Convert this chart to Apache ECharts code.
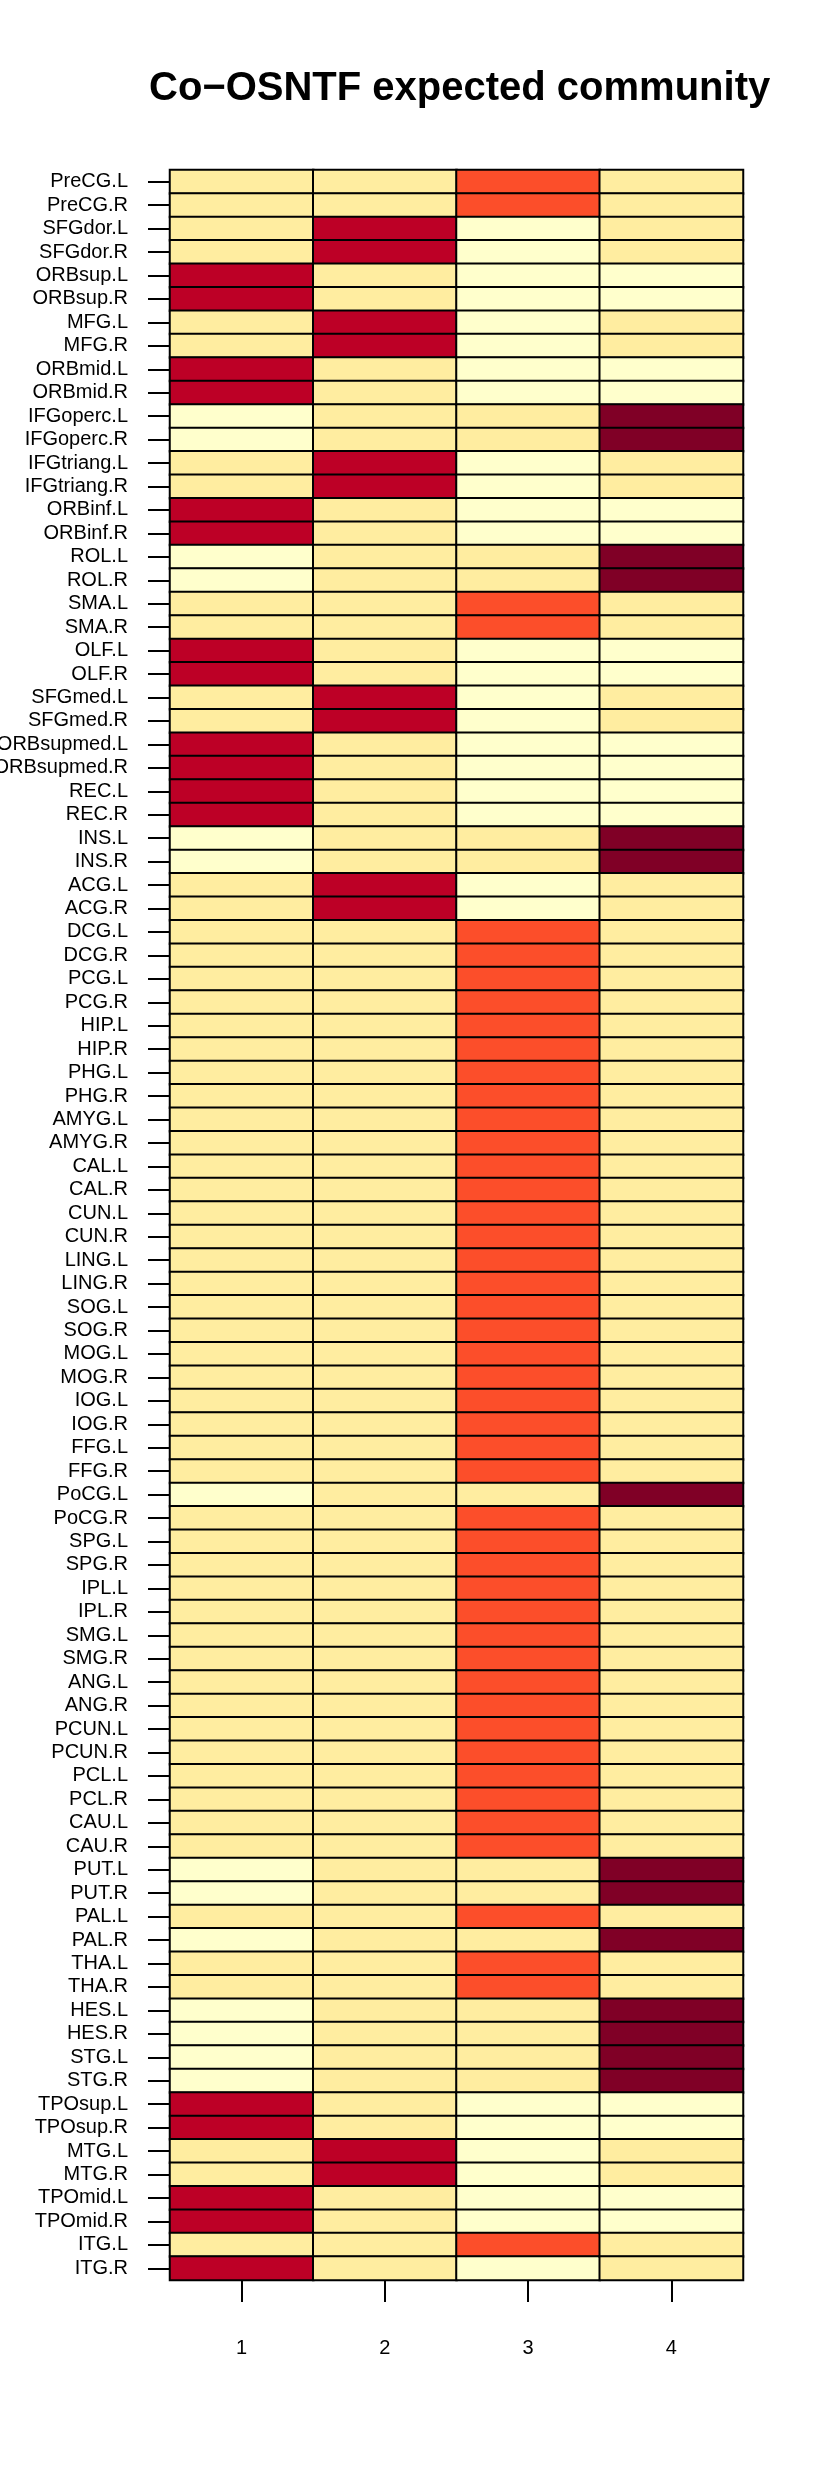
<!DOCTYPE html>
<html>
<head>
<meta charset="utf-8">
<style>
  html, body { margin: 0; padding: 0; background: #ffffff; }
  #chart { width: 830px; height: 2491px; }
</style>
<script src="https://cdn.jsdelivr.net/npm/echarts@6/dist/echarts.min.js"></script>
</head>
<body>
<div id="chart"></div>
<script>
// ---- data ----
var regions = [
  'PreCG.L','PreCG.R','SFGdor.L','SFGdor.R','ORBsup.L','ORBsup.R','MFG.L','MFG.R',
  'ORBmid.L','ORBmid.R','IFGoperc.L','IFGoperc.R','IFGtriang.L','IFGtriang.R',
  'ORBinf.L','ORBinf.R','ROL.L','ROL.R','SMA.L','SMA.R','OLF.L','OLF.R',
  'SFGmed.L','SFGmed.R','ORBsupmed.L','ORBsupmed.R','REC.L','REC.R','INS.L','INS.R',
  'ACG.L','ACG.R','DCG.L','DCG.R','PCG.L','PCG.R','HIP.L','HIP.R','PHG.L','PHG.R',
  'AMYG.L','AMYG.R','CAL.L','CAL.R','CUN.L','CUN.R','LING.L','LING.R','SOG.L','SOG.R',
  'MOG.L','MOG.R','IOG.L','IOG.R','FFG.L','FFG.R','PoCG.L','PoCG.R','SPG.L','SPG.R',
  'IPL.L','IPL.R','SMG.L','SMG.R','ANG.L','ANG.R','PCUN.L','PCUN.R','PCL.L','PCL.R',
  'CAU.L','CAU.R','PUT.L','PUT.R','PAL.L','PAL.R','THA.L','THA.R','HES.L','HES.R',
  'STG.L','STG.R','TPOsup.L','TPOsup.R','MTG.L','MTG.R','TPOmid.L','TPOmid.R','ITG.L','ITG.R'
];
var communities = ['1', '2', '3', '4'];

// expected membership of each region in community 1..4
var comm1 = [
  0.16,0.16,0.16,0.16,0.82,0.82,0.16,0.16,0.82,0.82,
  0.04,0.04,0.16,0.16,0.82,0.82,0.04,0.04,0.16,0.16,
  0.82,0.82,0.16,0.16,0.82,0.82,0.82,0.82,0.04,0.04,
  0.16,0.16,0.16,0.16,0.16,0.16,0.16,0.16,0.16,0.16,
  0.16,0.16,0.16,0.16,0.16,0.16,0.16,0.16,0.16,0.16,
  0.16,0.16,0.16,0.16,0.16,0.16,0.04,0.16,0.16,0.16,
  0.16,0.16,0.16,0.16,0.16,0.16,0.16,0.16,0.16,0.16,
  0.16,0.16,0.04,0.04,0.16,0.04,0.16,0.16,0.04,0.04,
  0.04,0.04,0.82,0.82,0.16,0.16,0.82,0.82,0.16,0.82
];
var comm2 = [
  0.16,0.16,0.82,0.82,0.16,0.16,0.82,0.82,0.16,0.16,
  0.16,0.16,0.82,0.82,0.16,0.16,0.16,0.16,0.16,0.16,
  0.16,0.16,0.82,0.82,0.16,0.16,0.16,0.16,0.16,0.16,
  0.82,0.82,0.16,0.16,0.16,0.16,0.16,0.16,0.16,0.16,
  0.16,0.16,0.16,0.16,0.16,0.16,0.16,0.16,0.16,0.16,
  0.16,0.16,0.16,0.16,0.16,0.16,0.16,0.16,0.16,0.16,
  0.16,0.16,0.16,0.16,0.16,0.16,0.16,0.16,0.16,0.16,
  0.16,0.16,0.16,0.16,0.16,0.16,0.16,0.16,0.16,0.16,
  0.16,0.16,0.16,0.16,0.82,0.82,0.16,0.16,0.16,0.16
];
var comm3 = [
  0.60,0.60,0.04,0.04,0.04,0.04,0.04,0.04,0.04,0.04,
  0.16,0.16,0.04,0.04,0.04,0.04,0.16,0.16,0.60,0.60,
  0.04,0.04,0.04,0.04,0.04,0.04,0.04,0.04,0.16,0.16,
  0.04,0.04,0.60,0.60,0.60,0.60,0.60,0.60,0.60,0.60,
  0.60,0.60,0.60,0.60,0.60,0.60,0.60,0.60,0.60,0.60,
  0.60,0.60,0.60,0.60,0.60,0.60,0.16,0.60,0.60,0.60,
  0.60,0.60,0.60,0.60,0.60,0.60,0.60,0.60,0.60,0.60,
  0.60,0.60,0.16,0.16,0.60,0.16,0.60,0.60,0.16,0.16,
  0.16,0.16,0.04,0.04,0.04,0.04,0.04,0.04,0.60,0.04
];
var comm4 = [
  0.16,0.16,0.16,0.16,0.04,0.04,0.16,0.16,0.04,0.04,
  0.94,0.94,0.16,0.16,0.04,0.04,0.94,0.94,0.16,0.16,
  0.04,0.04,0.16,0.16,0.04,0.04,0.04,0.04,0.94,0.94,
  0.16,0.16,0.16,0.16,0.16,0.16,0.16,0.16,0.16,0.16,
  0.16,0.16,0.16,0.16,0.16,0.16,0.16,0.16,0.16,0.16,
  0.16,0.16,0.16,0.16,0.16,0.16,0.94,0.16,0.16,0.16,
  0.16,0.16,0.16,0.16,0.16,0.16,0.16,0.16,0.16,0.16,
  0.16,0.16,0.94,0.94,0.16,0.94,0.16,0.16,0.94,0.94,
  0.94,0.94,0.04,0.04,0.16,0.16,0.04,0.04,0.16,0.16
];

// YlOrRd 9-class palette
var palette = ['#FFFFCC','#FFEDA0','#FED976','#FEB24C','#FD8D3C','#FC4E2A','#E31A1C','#BD0026','#800026'];

// ---- build ----
var columns = [comm1, comm2, comm3, comm4];
var cells = [];
columns.forEach(function (col, ci) {
  col.forEach(function (v, ri) { cells.push([ci, ri, v]); });
});
var pieces = palette.map(function (c, i) {
  return { gte: i / 9, lt: (i + 1) / 9 + (i === 8 ? 0.001 : 0), color: c };
});

var FONT = '"Liberation Sans", Arial, Helvetica, sans-serif';
var chart = echarts.init(document.getElementById('chart'), null, { renderer: 'canvas' });
chart.setOption({
  backgroundColor: '#ffffff',
  animation: false,
  title: {
    text: 'Co\u2212OSNTF expected community',
    left: 144,
    top: 64,
    textStyle: { fontFamily: FONT, fontSize: 40, fontWeight: 'bold', color: '#000' }
  },
  grid: {
    left: 170, right: 87, top: 170, bottom: 211,
    containLabel: false,
    outerBoundsMode: 'none',
    show: true, borderColor: '#000', borderWidth: 2, backgroundColor: 'transparent'
  },
  visualMap: {
    type: 'piecewise', show: false, dimension: 2,
    pieces: pieces
  },
  xAxis: {
    type: 'category',
    data: communities,
    position: 'bottom',
    axisLine: { show: false },
    axisTick: { show: true, alignWithLabel: true, length: 22, lineStyle: { color: '#000', width: 2 } },
    axisLabel: { margin: 58, fontFamily: FONT, fontSize: 20, color: '#000' },
    splitLine: { show: false }
  },
  yAxis: {
    type: 'category',
    data: regions,
    inverse: true,
    axisLine: { show: false },
    axisTick: { show: true, alignWithLabel: true, length: 22, lineStyle: { color: '#000', width: 2 } },
    axisLabel: { margin: 42, interval: 0, fontFamily: FONT, fontSize: 20, color: '#000' },
    splitLine: { show: false }
  },
  series: [{
    type: 'heatmap',
    data: cells,
    itemStyle: { borderColor: '#000', borderWidth: 2 },
    emphasis: { disabled: true }
  }]
});
</script>
</body>
</html>
